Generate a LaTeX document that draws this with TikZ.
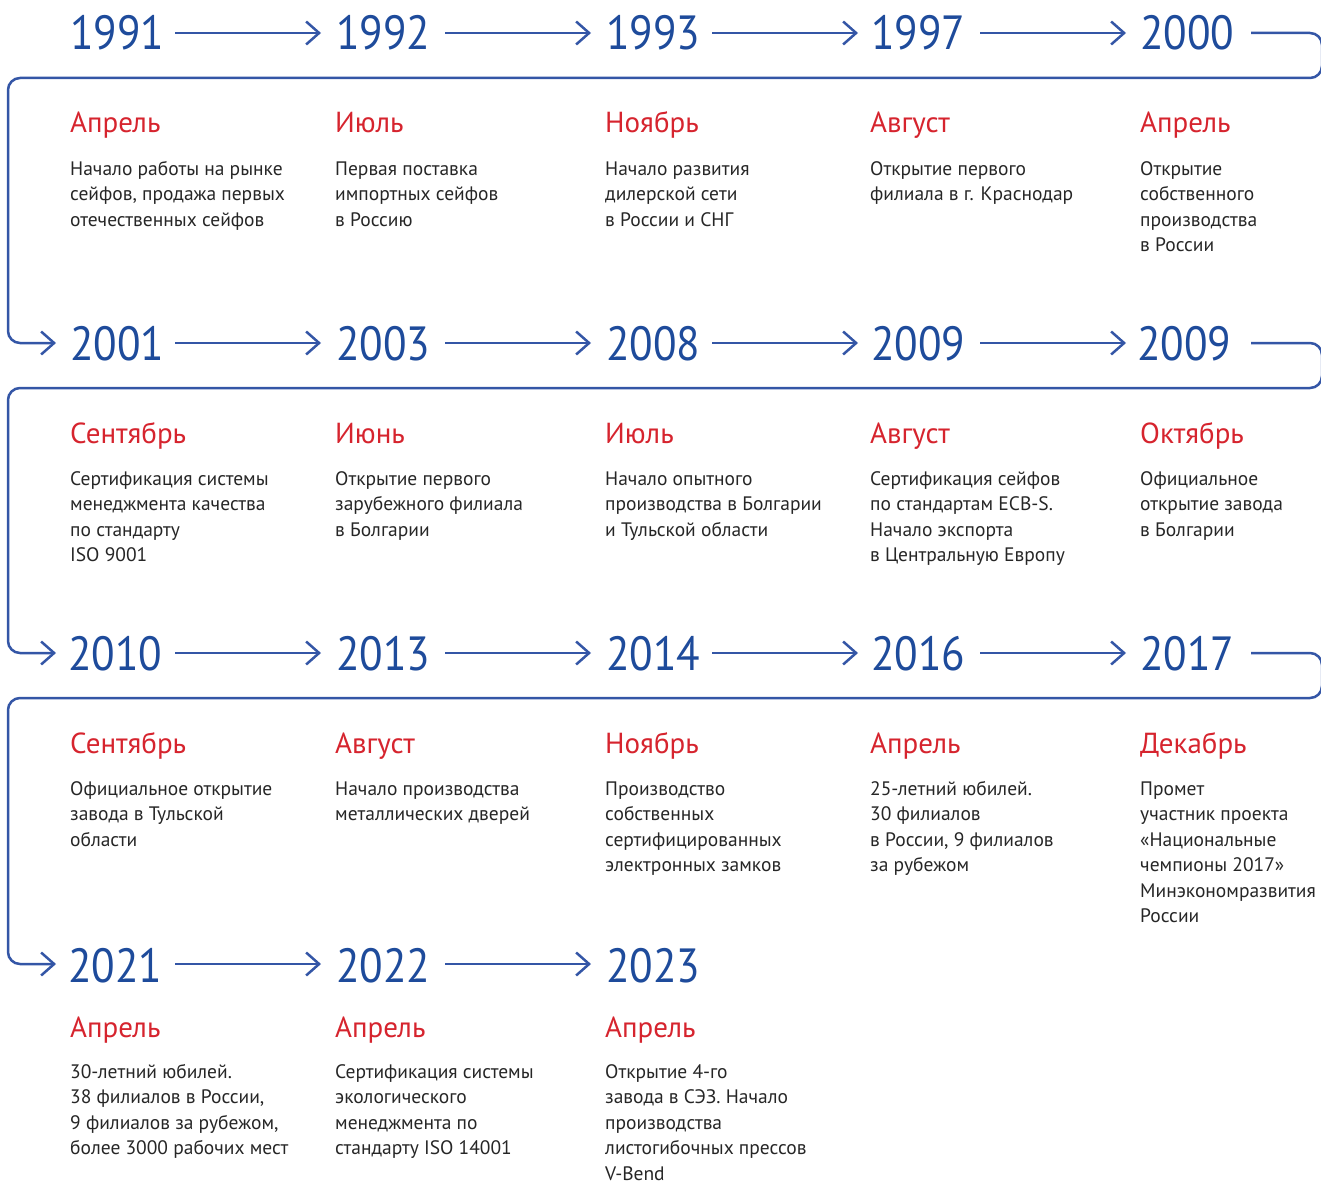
\documentclass[tikz,border=0pt]{standalone}
\usepackage{fontspec}
\setmainfont{PT Sans}
\newfontfamily\yearfont[FakeStretch=0.9]{PT Sans}
\usetikzlibrary{arrows.meta}
\definecolor{tlblue}{RGB}{30,75,155}
\definecolor{tlline}{RGB}{52,86,166}
\definecolor{tlred}{RGB}{214,36,46}
\definecolor{tltext}{RGB}{38,38,38}
\newcommand{\bst}{\rule{0pt}{20pt}}
\tikzset{
  yearlbl/.style={anchor=base west, inner sep=0pt, text=tlblue, font=\yearfont\fontsize{48}{48}\selectfont},
  monthlbl/.style={anchor=base west, inner sep=0pt, text=tlred, font=\fontsize{29}{29}\selectfont},
  bodylbl/.style={anchor=north west, inner sep=0pt, text=tltext, align=left, font=\fontsize{19.5}{25.5}\selectfont},
  chev/.style={-{Straight Barb[length=13pt,width=23pt]}},
  link/.style={draw=tlline, line width=2.5pt, chev},
  looppath/.style={draw=tlline, line width=2.5pt, rounded corners=12pt, chev}
}
\begin{document}
\begin{tikzpicture}[x=1pt,y=-1pt]
\useasboundingbox (0,0) rectangle (1321,1182);

% ---------- Row 1 ----------
\node[yearlbl] (y11) at (70,50) {1991};
\node[yearlbl] (y12) at (336,50) {1992};
\node[yearlbl] (y13) at (606,50) {1993};
\node[yearlbl] (y14) at (871,50) {1997};
\node[yearlbl] (y15) at (1140,50) {2000};
\node[monthlbl] (m11) at (70,133) {Апрель};
\node[monthlbl] (m12) at (335,133) {Июль};
\node[monthlbl] (m13) at (605,133) {Ноябрь};
\node[monthlbl] (m14) at (870,133) {Август};
\node[monthlbl] (m15) at (1140,133) {Апрель};
\node[bodylbl] (b11) at (70,155) {\bst Начало работы на рынке\\сейфов, продажа первых\\отечественных сейфов};
\node[bodylbl] (b12) at (335,155) {\bst Первая поставка\\импортных сейфов\\в Россию};
\node[bodylbl] (b13) at (605,155) {\bst Начало развития\\дилерской сети\\в России и СНГ};
\node[bodylbl] (b14) at (870,155) {\bst Открытие первого\\филиала в г. Краснодар};
\node[bodylbl] (b15) at (1140,155) {\bst Открытие\\собственного\\производства\\в России};

% ---------- Row 2 ----------
\node[yearlbl] (y21) at (70,360) {2001};
\node[yearlbl] (y22) at (336,360) {2003};
\node[yearlbl] (y23) at (606,360) {2008};
\node[yearlbl] (y24) at (871,360) {2009};
\node[yearlbl] (y25) at (1137,360) {2009};
\node[monthlbl] (m21) at (70,443) {Сентябрь};
\node[monthlbl] (m22) at (335,443) {Июнь};
\node[monthlbl] (m23) at (605,443) {Июль};
\node[monthlbl] (m24) at (870,443) {Август};
\node[monthlbl] (m25) at (1140,443) {Октябрь};
\node[bodylbl] (b21) at (70,465) {\bst Сертификация системы\\менеджмента качества\\по стандарту\\ISO 9001};
\node[bodylbl] (b22) at (335,465) {\bst Открытие первого\\зарубежного филиала\\в Болгарии};
\node[bodylbl] (b23) at (605,465) {\bst Начало опытного\\производства в Болгарии\\и Тульской области};
\node[bodylbl] (b24) at (870,465) {\bst Сертификация сейфов\\по стандартам ECB-S.\\Начало экспорта\\в Центральную Европу};
\node[bodylbl] (b25) at (1140,465) {\bst Официальное\\открытие завода\\в Болгарии};

% ---------- Row 3 ----------
\node[yearlbl] (y31) at (68,670) {2010};
\node[yearlbl] (y32) at (336,670) {2013};
\node[yearlbl] (y33) at (606,670) {2014};
\node[yearlbl] (y34) at (871,670) {2016};
\node[yearlbl] (y35) at (1140,670) {2017};
\node[monthlbl] (m31) at (70,753) {Сентябрь};
\node[monthlbl] (m32) at (335,753) {Август};
\node[monthlbl] (m33) at (605,753) {Ноябрь};
\node[monthlbl] (m34) at (870,753) {Апрель};
\node[monthlbl] (m35) at (1140,753) {Декабрь};
\node[bodylbl] (b31) at (70,775) {\bst Официальное открытие\\завода в Тульской\\области};
\node[bodylbl] (b32) at (335,775) {\bst Начало производства\\металлических дверей};
\node[bodylbl] (b33) at (605,775) {\bst Производство\\собственных\\сертифицированных\\электронных замков};
\node[bodylbl] (b34) at (870,775) {\bst 25-летний юбилей.\\30 филиалов\\в России, 9 филиалов\\за рубежом};
\node[bodylbl] (b35) at (1140,775) {\bst Промет\\участник проекта\\«Национальные\\чемпионы 2017»\\Минэкономразвития\\России};

% ---------- Row 4 ----------
\node[yearlbl] (y41) at (68,982) {2021};
\node[yearlbl] (y42) at (336,982) {2022};
\node[yearlbl] (y43) at (606,982) {2023};
\node[monthlbl] (m41) at (70,1037) {Апрель};
\node[monthlbl] (m42) at (335,1037) {Апрель};
\node[monthlbl] (m43) at (605,1037) {Апрель};
\node[bodylbl] (b41) at (70,1058) {\bst 30-летний юбилей.\\38 филиалов в России,\\9 филиалов за рубежом,\\более 3000 рабочих мест};
\node[bodylbl] (b42) at (335,1058) {\bst Сертификация системы\\экологического\\менеджмента по\\стандарту ISO 14001};
\node[bodylbl] (b43) at (605,1058) {\bst Открытие 4-го\\завода в СЭЗ. Начало\\производства\\листогибочных прессов\\V-Bend};

% ---------- connector end points ----------
\foreach \r/\yy in {1/33,2/343,3/653,4/964}{
  \coordinate (s\r1) at (175,\yy); \coordinate (e\r1) at (321,\yy);
  \coordinate (s\r2) at (445,\yy); \coordinate (e\r2) at (591,\yy);
  \coordinate (s\r3) at (712,\yy); \coordinate (e\r3) at (858,\yy);
  \coordinate (s\r4) at (980,\yy); \coordinate (e\r4) at (1126,\yy);
  \coordinate (t\r) at (1251,\yy);
  \coordinate (in\r) at (56,\yy);
}
\coordinate (rc1) at (1322,33);  \coordinate (rb1) at (1322,78);  \coordinate (lb1) at (8,78);
\coordinate (rc2) at (1322,343); \coordinate (rb2) at (1322,388); \coordinate (lb2) at (8,388);
\coordinate (rc3) at (1322,653); \coordinate (rb3) at (1322,698); \coordinate (lb3) at (8,698);

% ---------- connectors ----------
\foreach \r in {1,2,3}{
  \foreach \c in {1,2,3,4}{ \draw[link] (s\r\c) -- (e\r\c); }
}
\draw[link] (s41) -- (e41);
\draw[link] (s42) -- (e42);
\draw[looppath] (t1) -- (rc1) -- (rb1) -- (lb1) -- (lb1 |- in2) -- (in2);
\draw[looppath] (t2) -- (rc2) -- (rb2) -- (lb2) -- (lb2 |- in3) -- (in3);
\draw[looppath] (t3) -- (rc3) -- (rb3) -- (lb3) -- (lb3 |- in4) -- (in4);
\end{tikzpicture}
\end{document}
